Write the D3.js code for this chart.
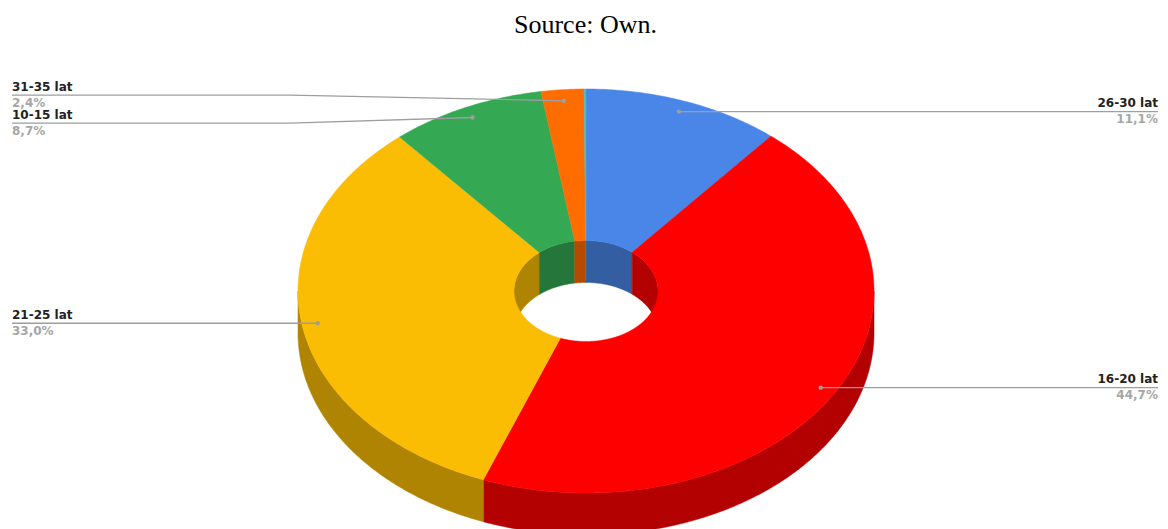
<!DOCTYPE html>
<html>
<head>
<meta charset="utf-8">
<script src="https://cdn.jsdelivr.net/npm/d3@7"></script>
<style>
  html, body { margin: 0; padding: 0; background: #fff; }
  svg { display: block; }
</style>
</head>
<body>
<svg id="chart" width="1168" height="529"></svg>
<script>
// ---- data ----
const categories = ["26-30 lat", "16-20 lat", "21-25 lat", "10-15 lat", "31-35 lat", "inne"];
const values = [11.1, 44.7, 33.0, 8.7, 2.4, 0.1];
const topColors = ["#4a86e8", "#ff0000", "#fbbc04", "#34a853", "#ff6d01", "#46bdc6"];
const titleText = "Source: Own.";

// ---- layout ----
const W = 1168, H = 529;
const cx = 586, cy = 291, rx = 288, ky = 202 / 288, innerFrac = 0.25, depth = 42;
const irx = rx * innerFrac;

const svg = d3.select("#chart");
const locale = d3.formatLocale({ decimal: ",", thousands: " ", grouping: [3], currency: ["", " zł"] });
const fmt = locale.format(".1f");
const total = d3.sum(values);

const data = categories.map((c, i) => ({ name: c, value: values[i], color: topColors[i] }));
const pie = d3.pie().sort(null).value(d => d.value);
const arcs = pie(data);

const dark = c => d3.rgb(c).darker(1).formatHex();

function pt(r, a, dy = 0) {
  return [cx + r * Math.sin(a), cy - r * ky * Math.cos(a) + dy];
}
function arcPts(r, a0, a1, dy = 0) {
  const n = Math.max(2, Math.ceil(Math.abs(a1 - a0) / 0.01));
  const out = [];
  for (let i = 0; i <= n; i++) out.push(pt(r, a0 + (a1 - a0) * i / n, dy));
  return out;
}
const line = d3.line();
function closed(pts) { return line(pts) + "Z"; }

function clip(a0, a1, lo, hi) {
  const s = Math.max(a0, lo), e = Math.min(a1, hi);
  return s < e ? [s, e] : null;
}

const gInner = svg.append("g");
const gOuter = svg.append("g");
const gTop = svg.append("g");

arcs.forEach(d => {
  const c = d.data.color, dc = dark(c);
  // inner walls: back half
  [[0, Math.PI / 2], [1.5 * Math.PI, 2 * Math.PI]].forEach(([lo, hi]) => {
    const r = clip(d.startAngle, d.endAngle, lo, hi);
    if (!r) return;
    const pts = arcPts(irx, r[0], r[1]).concat(arcPts(irx, r[1], r[0], depth));
    gInner.append("path").attr("d", closed(pts)).attr("fill", dc).attr("stroke", dc).attr("stroke-width", 0.5);
  });
  // outer walls: front half
  const r = clip(d.startAngle, d.endAngle, Math.PI / 2, 1.5 * Math.PI);
  if (r) {
    const pts = arcPts(rx, r[0], r[1]).concat(arcPts(rx, r[1], r[0], depth));
    gOuter.append("path").attr("d", closed(pts)).attr("fill", dc).attr("stroke", dc).attr("stroke-width", 0.5);
  }
  // top face
  const tp = arcPts(rx, d.startAngle, d.endAngle).concat(arcPts(irx, d.endAngle, d.startAngle));
  gTop.append("path").attr("d", closed(tp)).attr("fill", c).attr("stroke", c).attr("stroke-width", 0.5);
});

// ---- labels ----
const labelR = rx * 0.945;
const labels = arcs.filter(d => d.data.value / total >= 0.005).map(d => {
  const a = (d.startAngle + d.endAngle) / 2;
  const p = pt(labelR, a);
  return { d, a, x: p[0], y: p[1], side: Math.sin(a) < 0 ? "left" : "right", ly: p[1] };
});
const gap = 28;
["left", "right"].forEach(side => {
  const L = labels.filter(l => l.side === side).sort((a, b) => a.y - b.y);
  for (let it = 0; it < 100; it++) {
    for (let i = 0; i < L.length - 1; i++) {
      const def = gap - (L[i + 1].ly - L[i].ly);
      if (def > 0) { L[i].ly -= def / 2; L[i + 1].ly += def / 2; }
    }
  }
});

const gLab = svg.append("g");
const leftX = 12, rightX = 1158;
labels.forEach(l => {
  let pts;
  if (l.side === "left") {
    const bx = Math.min(cx - rx - 8, l.x);
    pts = [[leftX, l.ly], [bx, l.ly], [l.x, l.y]];
  } else {
    const bx = Math.max(cx + rx + 8, l.x);
    pts = [[l.x, l.y], [bx, l.ly], [rightX, l.ly]];
  }
  gLab.append("path").attr("d", line(pts)).attr("fill", "none")
    .attr("stroke", "#9e9e9e").attr("stroke-width", 1.3);
  gLab.append("circle").attr("cx", l.x).attr("cy", l.y).attr("r", 2.2).attr("fill", "#9e9e9e");
  const tx = l.side === "left" ? leftX : rightX;
  const anchor = l.side === "left" ? "start" : "end";
  gLab.append("text").attr("x", tx).attr("y", l.ly - 4.5).attr("text-anchor", anchor)
    .attr("font-family", "DejaVu Sans, Verdana, sans-serif").attr("font-weight", "bold")
    .attr("font-size", 12).attr("fill", "#222").text(l.d.data.name);
  gLab.append("text").attr("x", tx).attr("y", l.ly + 11.5).attr("text-anchor", anchor)
    .attr("font-family", "DejaVu Sans, Verdana, sans-serif").attr("font-weight", "bold")
    .attr("font-size", 12).attr("fill", "#a6a6a6").text(fmt(l.d.data.value) + "%");
});

// ---- title ----
svg.append("text").attr("x", 585.5).attr("y", 33).attr("text-anchor", "middle")
  .attr("font-family", "Liberation Serif, Times New Roman, serif").attr("font-size", 26)
  .attr("fill", "#000").text(titleText);
</script>
</body>
</html>
